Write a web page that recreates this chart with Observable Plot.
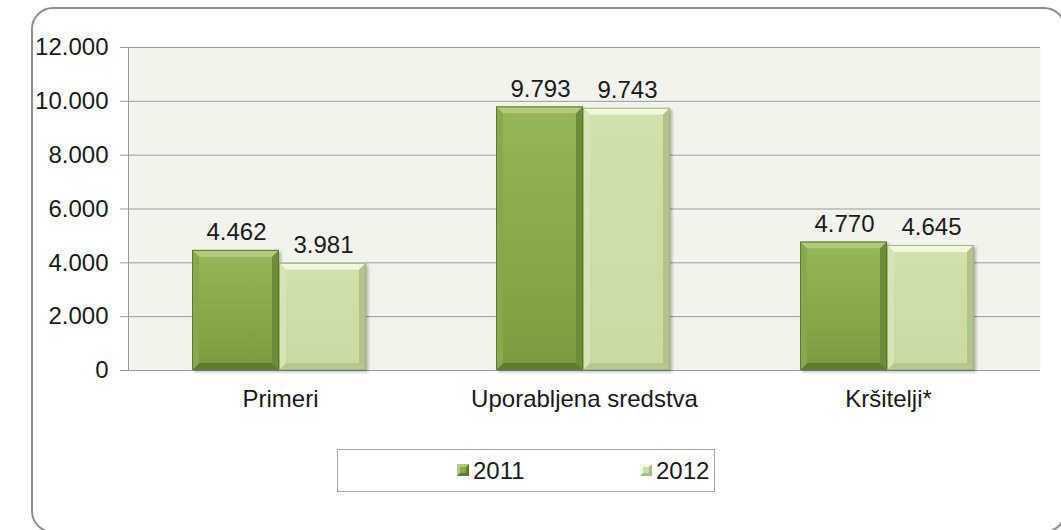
<!DOCTYPE html>
<html>
<head>
<meta charset="utf-8">
<script src="https://cdn.jsdelivr.net/npm/d3@7"></script>
<script src="https://cdn.jsdelivr.net/npm/@observablehq/plot@0.6"></script>
<style>
  html, body { margin: 0; padding: 0; background: #fff; overflow: hidden; }
  #wrap { position: relative; width: 1061px; height: 530px; overflow: hidden; font-family: "Liberation Sans", Arial, sans-serif; }
  #border { position: absolute; left: 31px; top: 7px; width: 1035px; height: 526px; border: 2px solid #8e8e8e; border-radius: 22px; box-sizing: border-box; }
  #chart { position: absolute; left: 0; top: 0; }
  #legend { position: absolute; left: 337px; top: 449px; width: 378px; height: 43px; border: 1px solid #a6a6a6; box-sizing: border-box; background: #fff; }
  .item { position: absolute; top: 7px; font-size: 24px; color: #1a1a1a; line-height: 28px; }
  .sw { position: absolute; width: 12px; height: 12px; box-sizing: border-box; border-style: solid; border-width: 3px; }
</style>
</head>
<body>
<div id="wrap">
  <div id="border"></div>
  <div id="chart"></div>
  <div id="legend"></div>
</div>
<script>
const categories = ["Primeri", "Uporabljena sredstva", "Kršitelji*"];
const years = ["2011", "2012"];
const values2011 = [4462, 9793, 4770];
const values2012 = [3981, 9743, 4645];
const yTicks = [0, 2000, 4000, 6000, 8000, 10000, 12000];

const fmt = d => d3.format(",")(d).replace(/,/g, ".");
const rows2011 = categories.map((c, i) => ({cat: c, year: "2011", value: values2011[i]}));
const rows2012 = categories.map((c, i) => ({cat: c, year: "2012", value: values2012[i]}));

const font = "Liberation Sans, Arial, sans-serif";

const plot = Plot.plot({
  width: 1061,
  height: 420,
  marginLeft: 128,
  marginRight: 21,
  marginTop: 47,
  marginBottom: 50,
  style: {fontFamily: font, background: "transparent", color: "#1a1a1a"},
  x: {domain: categories, padding: 0, axis: null},
  y: {domain: [0, 12000], axis: null},
  marks: [
    Plot.frame({fill: "#f3f3ee", stroke: null}),
    Plot.gridY(yTicks, {stroke: "#9a9a9a", strokeOpacity: 1, strokeWidth: 1}),
    Plot.frame({anchor: "left", stroke: "#9a9a9a", strokeOpacity: 1}),
    Plot.axisY(yTicks, {label: null, tickFormat: fmt, tickSize: 8, tickPadding: 12, fontSize: 24, stroke: "#9a9a9a", fill: "#1a1a1a"}),
    Plot.axisX({label: null, tickSize: 0, tickPadding: 19, fontSize: 24, fill: "#1a1a1a"}),
    Plot.barY(rows2011, {x: "cat", y: "value", fill: "#8aab4b", insetLeft: 64, insetRight: 153, className: "b2011"}),
    Plot.barY(rows2012, {x: "cat", y: "value", fill: "#cbdda6", insetLeft: 151, insetRight: 66, className: "b2012"}),
    Plot.text(rows2011, {x: "cat", y: "value", text: d => fmt(d.value), dx: -44, dy: -18, fontSize: 24, fill: "#1a1a1a"}),
    Plot.text(rows2012, {x: "cat", y: "value", text: d => fmt(d.value), dx: 43, dy: -18, fontSize: 24, fill: "#1a1a1a"})
  ]
});
document.getElementById("chart").appendChild(plot);

// Bevel styling derived from the rendered bar rectangles
const svg = d3.select(plot);
const defs = svg.insert("defs", ":first-child");
function grad(id, c1, c2) {
  const g = defs.append("linearGradient").attr("id", id).attr("x1", 0).attr("y1", 0).attr("x2", 0).attr("y2", 1);
  g.append("stop").attr("offset", "0%").attr("stop-color", c1);
  g.append("stop").attr("offset", "100%").attr("stop-color", c2);
}
grad("face2011", "#95b656", "#7e9a40");
grad("face2012", "#d0e1ac", "#c8daa2");
const styles = {
  b2011: {face: "url(#face2011)", top: "#b0cb7b", left: "#8aa94c", right: "#6f8b36", bottom: "#627c2d", outline: "#5f7a2e"},
  b2012: {face: "url(#face2012)", top: "#f0f7dc", left: "#d5e5b4", right: "#b0c48c", bottom: "#b5c890", outline: "#9fb37c"}
};
Object.entries(styles).forEach(([cls, s]) => {
  const g = svg.select("g." + cls);
  g.style("filter", "drop-shadow(2px 2px 1.5px rgba(0,0,0,0.28))");
  g.selectAll("rect").each(function() {
    const r = d3.select(this);
    const x = +r.attr("x"), y = +r.attr("y"), w = +r.attr("width"), h = +r.attr("height");
    const b = 7;
    const parent = d3.select(this.parentNode);
    const P = pts => pts.map(p => p.join(",")).join(" ");
    parent.append("polygon").attr("points", P([[x, y], [x + w, y], [x + w - b, y + b], [x + b, y + b]])).attr("fill", s.top);
    parent.append("polygon").attr("points", P([[x, y + h], [x + w, y + h], [x + w - b, y + h - b], [x + b, y + h - b]])).attr("fill", s.bottom);
    parent.append("polygon").attr("points", P([[x, y], [x + b, y + b], [x + b, y + h - b], [x, y + h]])).attr("fill", s.left);
    parent.append("polygon").attr("points", P([[x + w, y], [x + w - b, y + b], [x + w - b, y + h - b], [x + w, y + h]])).attr("fill", s.right);
    parent.append("rect").attr("x", x + b).attr("y", y + b).attr("width", w - 2 * b).attr("height", h - 2 * b).attr("fill", s.face);
    parent.append("rect").attr("x", x + 0.5).attr("y", y + 0.5).attr("width", w - 1).attr("height", h - 1).attr("fill", "none").attr("stroke", s.outline).attr("stroke-width", 1);
  });
});

// Legend
const legend = document.getElementById("legend");
const legendItems = [
  {label: years[0], left: 119, face: "#8aab4b", light: "#b0cb7b", dark: "#627c2d"},
  {label: years[1], left: 302, face: "#cbdda6", light: "#f0f7dc", dark: "#a9bd86"}
];
legendItems.forEach(it => {
  const sw = document.createElement("div");
  sw.className = "sw";
  sw.style.left = it.left + "px";
  sw.style.top = "14px";
  sw.style.background = it.face;
  sw.style.borderColor = `${it.light} ${it.dark} ${it.dark} ${it.light}`;
  legend.appendChild(sw);
  const t = document.createElement("div");
  t.className = "item";
  t.style.left = (it.left + 16) + "px";
  t.textContent = it.label;
  legend.appendChild(t);
});
</script>
</body>
</html>
